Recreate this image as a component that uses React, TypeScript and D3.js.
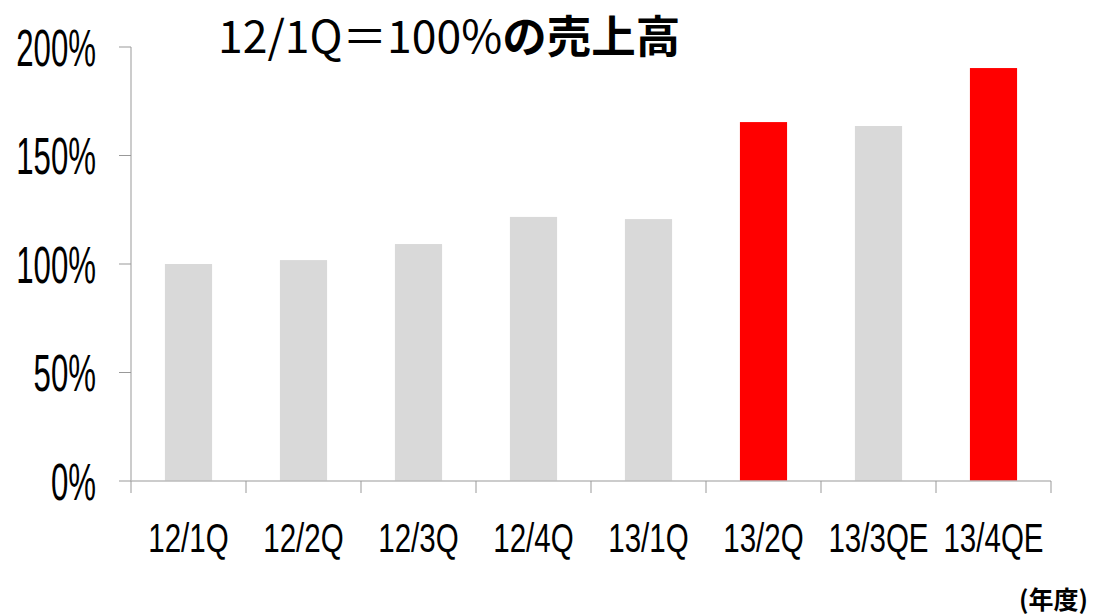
import React from "react";
import * as d3 from "d3";

const categories = ["12/1Q", "12/2Q", "12/3Q", "12/4Q", "13/1Q", "13/2Q", "13/3QE", "13/4QE"];
const salesRatio = [100, 101.8, 109.2, 121.7, 120.7, 165.4, 163.6, 190.3];
const highlighted = [false, false, false, false, false, true, false, true];
const yTicks = [0, 50, 100, 150, 200];
const titleNumber = "12/1Q＝100%";
const titleText = "の売上高";
const unitLabel = "(年度)";

const W = 1095;
const H = 615;
const margin = { left: 131, right: 44, top: 47, bottom: 134 };

export default function App() {
  const x = d3
    .scaleBand<string>()
    .domain(categories)
    .range([margin.left, W - margin.right])
    .paddingInner(0.59)
    .paddingOuter(0.295);
  const y = d3.scaleLinear().domain([0, 200]).range([H - margin.bottom, margin.top]);
  const band = d3.scaleBand<string>().domain(categories).range([margin.left, W - margin.right]);
  const font = "'Liberation Sans', Arial, sans-serif";
  return (
    <svg width={W} height={H} style={{ position: "absolute", left: 0, top: 0, background: "#fff" }}>
      {categories.map((c, i) => (
        <rect
          key={c}
          x={x(c)}
          y={y(salesRatio[i])}
          width={x.bandwidth()}
          height={y(0) - y(salesRatio[i])}
          fill={highlighted[i] ? "#ff0000" : "#d9d9d9"}
        />
      ))}
      {/* y axis */}
      <line x1={margin.left} x2={margin.left} y1={y(200)} y2={y(0)} stroke="#999" strokeWidth={1} />
      {yTicks.map((t) => (
        <g key={t}>
          <line x1={margin.left - 12} x2={margin.left} y1={y(t)} y2={y(t)} stroke="#999" />
          <g transform={`translate(96,${y(t)}) scale(0.6,1)`}>
            <text x={0} y={0} dy="0.36em" textAnchor="end" fontFamily={font} fontSize={52} fill="#000">
              {t}%
            </text>
          </g>
        </g>
      ))}
      {/* x axis */}
      <line x1={margin.left} x2={W - margin.right} y1={y(0)} y2={y(0)} stroke="#bbb" strokeWidth={1.5} />
      {[...categories.map((c) => band(c) as number), W - margin.right].map((px, i) => (
        <line key={i} x1={px} x2={px} y1={y(0)} y2={y(0) + 12} stroke="#999" />
      ))}
      {categories.map((c) => (
        <g key={c} transform={`translate(${(band(c) as number) + band.bandwidth() / 2},552) scale(0.72,1)`}>
          <text x={0} y={0} textAnchor="middle" fontFamily={font} fontSize={41} fill="#000">
            {c}
          </text>
        </g>
      ))}
      <text x={218} y={53} fontFamily="'Noto Sans CJK JP', sans-serif" fontSize={44.5} fill="#000">
        <tspan fontWeight={400}>{titleNumber}</tspan>
        <tspan fontWeight={700}>{titleText}</tspan>
      </text>
      <text
        x={1088}
        y={609}
        textAnchor="end"
        fontFamily="'Noto Sans CJK JP', sans-serif"
        fontWeight={700}
        fontSize={25}
        fill="#000"
      >
        {unitLabel}
      </text>
    </svg>
  );
}
